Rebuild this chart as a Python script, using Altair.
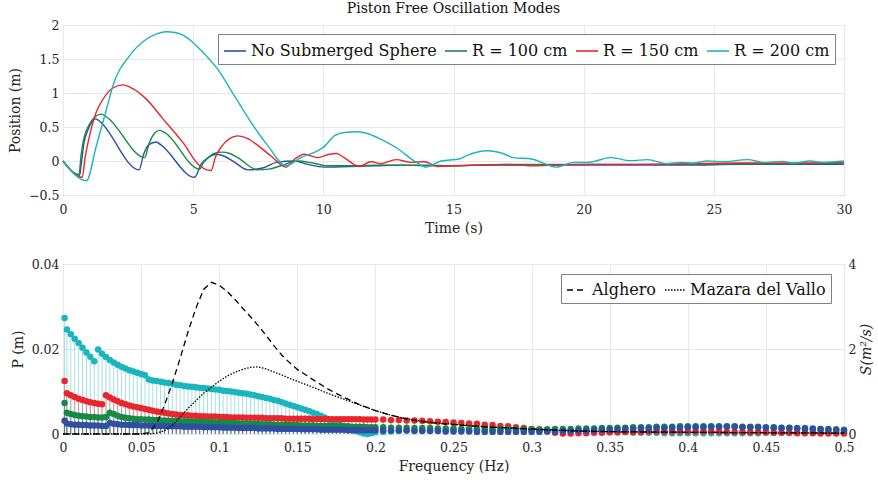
import altair as alt
import pandas as pd

FONT = "DejaVu Serif"

# ---------------- top panel: time series ----------------
series_names = ["No Submerged Sphere", "R = 100 cm", "R = 150 cm", "R = 200 cm"]
series_colors = ["#2f4fa2", "#178a48", "#e8262b", "#1bb5bd"]

t_blue = [0, 0.64, 0.7, 0.8, 0.95, 1.1, 1.25, 1.35, 2.92, 3.1, 3.3, 3.58, 3.75, 5.06, 5.3, 5.6, 5.88, 6.2, 6.6, 7.1,
          7.7, 8.2, 8.88, 9.4, 10.03, 11, 12, 13, 14, 15, 16, 18, 20, 22, 24, 26, 28, 30]
y_blue = [0, -0.21, -0.05, 0.25, 0.45, 0.57, 0.62, 0.6, -0.13, 0.1, 0.24, 0.28, 0.24, -0.24, -0.05, 0.06, 0.10, 0.07, -0.02, -0.13,
          -0.10, -0.02, 0.0, -0.05, -0.09, -0.08, -0.07, -0.06, -0.07, -0.07, -0.06, -0.06, -0.06, -0.06, -0.06, -0.05, -0.05, -0.05]

t_green = [0, 0.61, 0.7, 0.8, 0.9, 1.03, 1.2, 1.47, 1.7, 3.14, 3.3, 3.5, 3.71, 3.9, 5.25, 5.4, 5.56, 5.8, 6.13, 6.4,
           6.71, 7.48, 7.9, 8.37, 9.0, 9.6, 10.17, 11, 12, 13, 14, 15, 16, 18, 20, 22, 24, 26, 28, 30]
y_green = [0, -0.2, 0.1, 0.33, 0.45, 0.55, 0.64, 0.69, 0.64, 0.05, 0.25, 0.4, 0.45, 0.42, -0.12, -0.02, 0.04, 0.11, 0.13, 0.11,
           0.05, -0.13, -0.12, -0.07, 0.0, -0.03, -0.07, -0.07, -0.06, -0.06, -0.06, -0.07, -0.06, -0.05, -0.05, -0.05, -0.05, -0.04, -0.04, -0.03]

t_red = [0, 0.74, 0.85, 1.02, 1.28, 1.54, 1.9, 2.3, 2.7, 3.2, 3.84, 4.61, 5.25, 5.69, 5.85, 6.1, 6.4, 6.71, 7.1, 7.48,
         8.0, 8.57, 8.9, 9.27, 9.78, 10.23, 10.5, 10.8, 11.38, 11.83, 12.2, 12.8, 13.37, 13.88, 14.4, 15, 16, 17, 18, 19,
         20, 22, 24, 26, 28, 30]
y_red = [0, -0.24, 0.05, 0.37, 0.72, 0.91, 1.07, 1.12, 1.06, 0.91, 0.62, 0.27, -0.07, -0.14, 0.05, 0.22, 0.33, 0.37, 0.33, 0.23,
         0.07, -0.09, 0.03, 0.10, 0.05, 0.10, 0.11, 0.05, -0.08, -0.01, -0.04, 0.02, -0.02, -0.01, -0.08, -0.07, -0.06, -0.05, -0.07, -0.06,
         -0.05, -0.05, -0.04, -0.03, -0.03, -0.02]

t_cyan = [0, 0.9, 1.28, 1.67, 1.92, 2.56, 3.2, 3.6, 3.97, 4.3, 4.61, 5.0, 5.3, 5.94, 6.58, 7.22, 7.86, 8.57, 9.14, 9.78,
          10.0, 10.42, 10.8, 11.32, 11.8, 12.2, 12.86, 13.5, 13.95, 14.52, 15.22, 15.5, 16.3, 16.9, 17.3, 18.0, 18.94, 19.64, 20.16, 21.05,
          21.8, 22.46, 23.2, 23.74, 24.2, 24.77, 25.4, 26.3, 26.9, 27.6, 28.1, 28.7, 29.2, 30]
y_cyan = [0, -0.29, 0.22, 0.76, 1.11, 1.55, 1.79, 1.87, 1.90, 1.89, 1.85, 1.74, 1.63, 1.35, 0.96, 0.57, 0.23, -0.07, 0.05, 0.15,
          0.2, 0.37, 0.42, 0.43, 0.39, 0.32, 0.18, 0.0, -0.09, 0.0, 0.03, 0.08, 0.15, 0.11, 0.05, 0.03, -0.09, -0.02, -0.02, 0.05,
          0.005, 0.02, -0.04, -0.02, -0.03, 0.0, -0.01, 0.02, -0.02, -0.005, -0.03, 0.0, -0.02, 0.0]

# ---------------- bottom panel: stem spectra ----------------
freq = [0.001] + [round(0.0025 * k, 4) for k in range(1, 81)] + [round(0.2 + 0.005 * k, 3) for k in range(1, 61)]

P_cyan = [0.0273,
          0.0246, 0.0235, 0.0224, 0.0214, 0.0203, 0.0192, 0.0182, 0.0171, 0.0199, 0.0189,
          0.0181, 0.0174, 0.0168, 0.0163, 0.0158, 0.0154, 0.0150, 0.0147, 0.0144, 0.0141,
          0.0138, 0.0128, 0.0126, 0.0125, 0.0123, 0.0121, 0.0120, 0.0118, 0.0116, 0.0115,
          0.0113, 0.0112, 0.0111, 0.0110, 0.0109, 0.0108, 0.0107, 0.0106, 0.0105, 0.0104,
          0.0102, 0.0101, 0.0100, 0.0099, 0.0097, 0.0096, 0.0095, 0.0093, 0.0091, 0.0089,
          0.0087, 0.0085, 0.0083, 0.0080, 0.0078, 0.0075, 0.0072, 0.0069, 0.0066, 0.0063,
          0.0060, 0.0057, 0.0054, 0.0050, 0.0047, 0.0043, 0.0039, 0.0034, 0.0029, 0.0025,
          0.0021, 0.0017, 0.0013, 0.0010, 0.0007, 0.0004, 0.0001, 0.0000, 0.0002, 0.0004,
          0.0005, 0.0006, 0.0007, 0.0008, 0.0008, 0.0009, 0.0009, 0.0009, 0.0009, 0.0009,
          0.0009, 0.0009, 0.0009, 0.0008, 0.0008, 0.0008, 0.0008, 0.0008, 0.0008, 0.0008,
          0.0008, 0.0008, 0.0007, 0.0007, 0.0007, 0.0006, 0.0006, 0.0005, 0.0005, 0.0004,
          0.0004, 0.0004, 0.0003, 0.0003, 0.0003, 0.0003, 0.0002, 0.0002, 0.0002, 0.0002,
          0.0002, 0.0002, 0.0002, 0.0002, 0.0002, 0.0002, 0.0002, 0.0002, 0.0002, 0.0003,
          0.0003, 0.0003, 0.0003, 0.0003, 0.0003, 0.0003, 0.0003, 0.0003, 0.0003, 0.0003]

P_red = [0.0125,
         0.0096, 0.0091, 0.0087, 0.0083, 0.0080, 0.0077, 0.0075, 0.0073, 0.0071, 0.0070,
         0.0091, 0.0086, 0.0081, 0.0077, 0.0073, 0.0070, 0.0067, 0.0065, 0.0063, 0.0061,
         0.0059, 0.0057, 0.0055, 0.0053, 0.0051, 0.0050, 0.0048, 0.0047, 0.0046, 0.0045,
         0.0044, 0.0044, 0.0043, 0.0043, 0.0042, 0.0042, 0.0041, 0.0041, 0.0041, 0.0040,
         0.0040, 0.0040, 0.0039, 0.0039, 0.0039, 0.0039, 0.0038, 0.0038, 0.0038, 0.0038,
         0.0038, 0.0037, 0.0037, 0.0037, 0.0037, 0.0037, 0.0036, 0.0036, 0.0036, 0.0036,
         0.0036, 0.0036, 0.0036, 0.0035, 0.0035, 0.0035, 0.0035, 0.0035, 0.0035, 0.0035,
         0.0035, 0.0035, 0.0035, 0.0035, 0.0035, 0.0035, 0.0034, 0.0034, 0.0034, 0.0034,
         0.0034, 0.0033, 0.0033, 0.0032, 0.0032, 0.0031, 0.0030, 0.0029, 0.0028, 0.0027,
         0.0026, 0.0025, 0.0024, 0.0022, 0.0021, 0.0019, 0.0018, 0.0016, 0.0014, 0.0012,
         0.0009, 0.0006, 0.0003, 0.0001, 0.0001, 0.0002, 0.0002, 0.0003, 0.0003, 0.0004,
         0.0004, 0.0005, 0.0005, 0.0005, 0.0006, 0.0006, 0.0006, 0.0006, 0.0006, 0.0006,
         0.0006, 0.0006, 0.0006, 0.0006, 0.0005, 0.0005, 0.0005, 0.0004, 0.0004, 0.0004,
         0.0003, 0.0003, 0.0003, 0.0002, 0.0002, 0.0002, 0.0001, 0.0001, 0.0001, 0.0001]

P_green = [0.0073,
           0.0050, 0.0047, 0.0045, 0.0043, 0.0042, 0.0041, 0.0040, 0.0040, 0.0039, 0.0039,
           0.0040, 0.0050, 0.0047, 0.0043, 0.0040, 0.0038, 0.0037, 0.0036, 0.0035, 0.0035,
           0.0034, 0.0034, 0.0033, 0.0033, 0.0032, 0.0032, 0.0031, 0.0031, 0.0031, 0.0030,
           0.0030, 0.0030, 0.0029, 0.0029, 0.0029, 0.0028, 0.0028, 0.0028, 0.0027, 0.0027,
           0.0027, 0.0026, 0.0026, 0.0026, 0.0025, 0.0025, 0.0025, 0.0024, 0.0024, 0.0024,
           0.0023, 0.0023, 0.0023, 0.0022, 0.0022, 0.0022, 0.0021, 0.0021, 0.0021, 0.0021,
           0.0020, 0.0020, 0.0020, 0.0020, 0.0019, 0.0019, 0.0019, 0.0019, 0.0019, 0.0018,
           0.0018, 0.0018, 0.0018, 0.0017, 0.0017, 0.0017, 0.0017, 0.0016, 0.0016, 0.0016,
           0.0016, 0.0015, 0.0015, 0.0015, 0.0014, 0.0014, 0.0014, 0.0013, 0.0013, 0.0013,
           0.0012, 0.0012, 0.0012, 0.0012, 0.0011, 0.0011, 0.0011, 0.0011, 0.0011, 0.0011,
           0.0011, 0.0011, 0.0012, 0.0012, 0.0012, 0.0013, 0.0013, 0.0013, 0.0014, 0.0014,
           0.0015, 0.0015, 0.0016, 0.0016, 0.0016, 0.0017, 0.0017, 0.0017, 0.0018, 0.0018,
           0.0018, 0.0018, 0.0018, 0.0018, 0.0018, 0.0018, 0.0017, 0.0017, 0.0017, 0.0016,
           0.0016, 0.0015, 0.0015, 0.0014, 0.0014, 0.0013, 0.0012, 0.0012, 0.0011, 0.0010]

P_blue = [0.0031,
          0.0025, 0.0023, 0.0022, 0.0022, 0.0021, 0.0021, 0.0020, 0.0020, 0.0020, 0.0019,
          0.0019, 0.0026, 0.0024, 0.0023, 0.0022, 0.0022, 0.0021, 0.0021, 0.0021, 0.0020,
          0.0020, 0.0020, 0.0019, 0.0019, 0.0019, 0.0019, 0.0018, 0.0018, 0.0018, 0.0018,
          0.0017, 0.0017, 0.0017, 0.0017, 0.0017, 0.0016, 0.0016, 0.0016, 0.0016, 0.0016,
          0.0015, 0.0015, 0.0015, 0.0015, 0.0014, 0.0014, 0.0014, 0.0014, 0.0014, 0.0013,
          0.0013, 0.0013, 0.0013, 0.0013, 0.0012, 0.0012, 0.0012, 0.0012, 0.0012, 0.0012,
          0.0011, 0.0011, 0.0011, 0.0011, 0.0011, 0.0010, 0.0010, 0.0010, 0.0010, 0.0010,
          0.0010, 0.0010, 0.0009, 0.0009, 0.0009, 0.0009, 0.0009, 0.0009, 0.0009, 0.0009,
          0.0008, 0.0008, 0.0008, 0.0008, 0.0007, 0.0007, 0.0007, 0.0007, 0.0006, 0.0006,
          0.0006, 0.0006, 0.0005, 0.0005, 0.0005, 0.0005, 0.0005, 0.0005, 0.0005, 0.0005,
          0.0005, 0.0006, 0.0006, 0.0007, 0.0007, 0.0008, 0.0008, 0.0009, 0.0010, 0.0010,
          0.0011, 0.0011, 0.0012, 0.0013, 0.0013, 0.0014, 0.0014, 0.0015, 0.0015, 0.0016,
          0.0016, 0.0016, 0.0017, 0.0017, 0.0017, 0.0017, 0.0016, 0.0016, 0.0016, 0.0015,
          0.0015, 0.0014, 0.0014, 0.0013, 0.0012, 0.0012, 0.0011, 0.0010, 0.0009, 0.0008]

# sea-state spectra (right axis)
spec_names = ["Alghero", "Mazara del Vallo"]
f_spec = [0.0, 0.05, 0.055, 0.06, 0.065, 0.07, 0.075, 0.08, 0.085, 0.09, 0.095, 0.1, 0.105, 0.11, 0.115, 0.12, 0.125,
          0.13, 0.135, 0.14, 0.145, 0.15, 0.16, 0.17, 0.18, 0.19, 0.2, 0.21, 0.22, 0.23, 0.24, 0.25, 0.27, 0.3, 0.33,
          0.36, 0.4, 0.45, 0.5]
S_alghero = [0, 0, 0.03, 0.25, 0.68, 1.2, 1.78, 2.4, 2.95, 3.4, 3.57, 3.5, 3.36, 3.17, 2.96, 2.76, 2.55, 2.32, 2.08,
             1.86, 1.68, 1.52, 1.28, 1.05, 0.86, 0.69, 0.55, 0.44, 0.35, 0.29, 0.25, 0.22, 0.17, 0.12, 0.07, 0.05, 0.04,
             0.03, 0.02]
S_mazara = [0, 0, 0, 0.02, 0.08, 0.2, 0.4, 0.6, 0.78, 0.96, 1.1, 1.24, 1.36, 1.45, 1.52, 1.57, 1.58, 1.53, 1.46, 1.39,
            1.31, 1.24, 1.1, 0.95, 0.82, 0.68, 0.55, 0.44, 0.36, 0.3, 0.26, 0.23, 0.17, 0.11, 0.07, 0.05, 0.04, 0.03,
            0.02]

# ---------------- build tables ----------------
rows = []
for name, ts, ys in zip(series_names, [t_blue, t_green, t_red, t_cyan], [y_blue, y_green, y_red, y_cyan]):
    for i, (t, y) in enumerate(zip(ts, ys)):
        rows.append({"series": name, "t": t, "y": y, "i": i})
top_df = pd.DataFrame(rows)

rows = []
for name, vals in [("R = 200 cm", P_cyan), ("R = 150 cm", P_red), ("R = 100 cm", P_green), ("No Submerged Sphere", P_blue)]:
    for f, p in zip(freq, vals):
        rows.append({"series": name, "f": f, "P": p})
stem_df = pd.DataFrame(rows)

rows = []
for name, vals in zip(spec_names, [S_alghero, S_mazara]):
    for f, s in zip(f_spec, vals):
        rows.append({"station": name, "f": f, "S": s})
spec_df = pd.DataFrame(rows)

color_scale = alt.Scale(domain=series_names, range=series_colors)

# ---------------- top chart ----------------
top = alt.Chart(top_df).mark_line(strokeWidth=1.4, interpolate="monotone").encode(
    x=alt.X("t:Q", scale=alt.Scale(domain=[0, 30], nice=False),
            axis=alt.Axis(title="Time (s)", values=[0, 5, 10, 15, 20, 25, 30], format="~g", labelPadding=8)),
    y=alt.Y("y:Q", scale=alt.Scale(domain=[-0.5, 2], nice=False),
            axis=alt.Axis(title="Position (m)", values=[-0.5, 0, 0.5, 1, 1.5, 2], format="~g")),
    color=alt.Color("series:N", scale=color_scale,
                    legend=alt.Legend(title=None, orient="none", legendX=155, legendY=9, direction="horizontal",
                                      symbolType="stroke", symbolSize=484, symbolStrokeWidth=1.6,
                                      labelFont=FONT, labelFontSize=16, labelColor="#111111", labelLimit=400,
                                      strokeColor="#808080", fillColor="white", padding=5,
                                      columnPadding=4, labelOffset=4)),
    detail="series:N",
    order="i:Q",
).properties(
    width=781, height=170,
    title=alt.TitleParams("Piston Free Oscillation Modes", font=FONT, fontSize=14, fontWeight="normal",
                          color="#111111", anchor="middle", offset=3),
)

# ---------------- bottom chart ----------------
x_f = alt.X("f:Q", scale=alt.Scale(domain=[0, 0.5], nice=False),
            axis=alt.Axis(title="Frequency (Hz)", values=[0, 0.05, 0.1, 0.15, 0.2, 0.25, 0.3, 0.35, 0.4, 0.45, 0.5],
                          format="~g", labelPadding=7))
y_p = alt.Y("P:Q", scale=alt.Scale(domain=[0, 0.04], nice=False),
            axis=alt.Axis(title="P (m)", values=[0, 0.02, 0.04], format="~g"))
c_p = alt.Color("series:N", scale=color_scale, legend=None)

stems = alt.Chart(stem_df).mark_rule(strokeWidth=0.8, opacity=0.5).encode(
    x=x_f, y=y_p, y2=alt.datum(0), color=c_p)
dots = alt.Chart(stem_df).mark_circle(size=42, opacity=1).encode(x=x_f, y=y_p, color=c_p)
left_layer = alt.layer(stems, dots)

spectra = alt.Chart(spec_df).mark_line(color="black", strokeWidth=1.3).encode(
    x=x_f,
    y=alt.Y("S:Q", scale=alt.Scale(domain=[0, 4], nice=False),
            axis=alt.Axis(title="S(m²/s)", orient="right", values=[0, 2, 4], grid=False,
                          titleFontStyle="italic", titleAngle=270, titleBaseline="top", titlePadding=4)),
    strokeDash=alt.StrokeDash("station:N",
                              scale=alt.Scale(domain=spec_names, range=[[6, 4], [1.5, 1.5]]),
                              legend=alt.Legend(title=None, orient="none", legendX=498, legendY=10,
                                                direction="horizontal", symbolType="stroke", symbolSize=400,
                                                symbolStrokeColor="black", symbolStrokeWidth=1.3,
                                                labelFont=FONT, labelFontSize=16, labelColor="#111111",
                                                labelLimit=400, strokeColor="#808080", fillColor="white",
                                                padding=5, columnPadding=6, labelOffset=4)),
    detail="station:N",
)

bottom = alt.layer(left_layer, spectra).resolve_scale(
    y="independent", color="independent", strokeDash="independent"
).properties(width=781, height=170)

chart = alt.vconcat(top, bottom, spacing=21).properties(
    padding={"left": 8, "top": 1, "right": 0, "bottom": 0}
).configure_axis(
    labelFont=FONT, titleFont=FONT, labelFontSize=12.5, titleFontSize=14, titleFontWeight="normal",
    labelColor="#262626", titleColor="#262626", gridColor="#e8e8e8", domain=False, ticks=False,
    labelPadding=4, titlePadding=6, labelFlush=False,
).configure_view(
    stroke="#808080", strokeWidth=1
)

chart.save("out.html", embed_options={"renderer": "svg", "actions": False})
